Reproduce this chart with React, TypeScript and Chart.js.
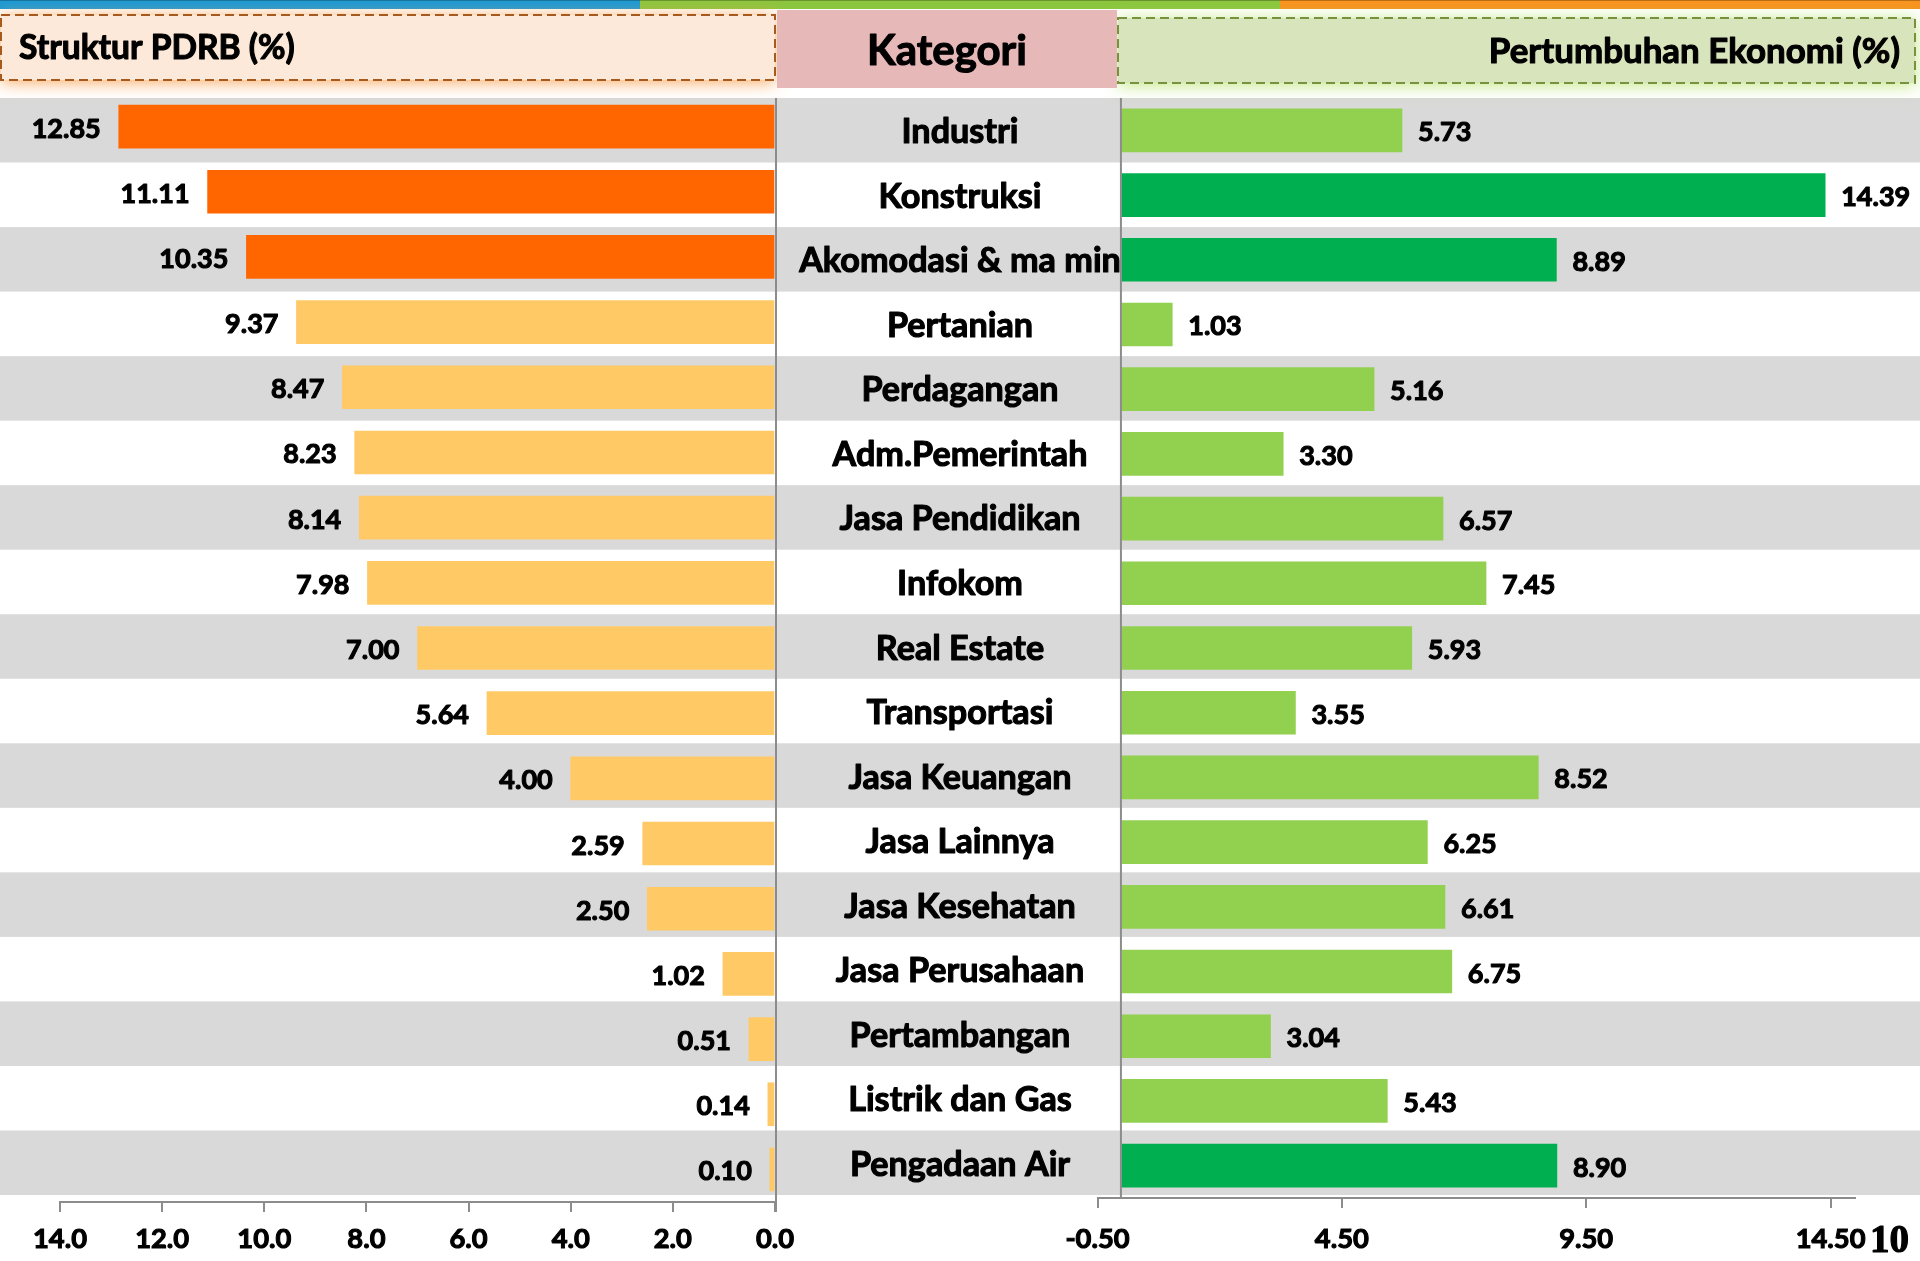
import React, { useEffect, useRef } from "react";
import { Chart, registerables } from "chart.js";

Chart.register(...registerables);

// ---------- data ----------
const categories = [
  "Industri",
  "Konstruksi",
  "Akomodasi & ma min",
  "Pertanian",
  "Perdagangan",
  "Adm.Pemerintah",
  "Jasa Pendidikan",
  "Infokom",
  "Real Estate",
  "Transportasi",
  "Jasa Keuangan",
  "Jasa Lainnya",
  "Jasa Kesehatan",
  "Jasa Perusahaan",
  "Pertambangan",
  "Listrik dan Gas",
  "Pengadaan Air",
];

const strukturPdrb = [12.85, 11.11, 10.35, 9.37, 8.47, 8.23, 8.14, 7.98, 7.0, 5.64, 4.0, 2.59, 2.5, 1.02, 0.51, 0.14, 0.1];
const pertumbuhan = [5.73, 14.39, 8.89, 1.03, 5.16, 3.3, 6.57, 7.45, 5.93, 3.55, 8.52, 6.25, 6.61, 6.75, 3.04, 5.43, 8.9];

const strukturHighlight = [true, true, true, false, false, false, false, false, false, false, false, false, false, false, false, false, false];
const pertumbuhanHighlight = [false, true, true, false, false, false, false, false, false, false, false, false, false, false, false, false, true];

const leftTickStep = 2;
const leftMin = 0;
const leftMax = 14;
const rightMin = -0.5;
const rightMax = 15;
const rightTickValues = [-0.5, 4.5, 9.5, 14.5];

const headerLeft = "Struktur PDRB (%)";
const headerMid = "Kategori";
const headerRight = "Pertumbuhan Ekonomi (%)";
const pageNumber = "10";

// ---------- style ----------
const W = 1920;
const H = 1261;
const FONT = "Lato, 'Open Sans', sans-serif";
const WEIGHT = "bold";
const BAND_TOP = 98;
const BAND_BOTTOM = 1195;
const AXIS_GRAY = "#8C8C8C";
const STROKE = 1.1;

function fitSize(text: string, target: number, family: string, weight = WEIGHT) {
  const c = document.createElement("canvas").getContext("2d")!;
  c.font = `${weight} 100px ${family}`;
  const w = c.measureText(text).width;
  return Math.round(((100 * target) / w) * 10) / 10;
}

function boldText(ctx: CanvasRenderingContext2D, text: string, x: number, y: number) {
  ctx.fillText(text, x, y);
  ctx.strokeText(text, x, y);
}

export default function App() {
  const leftRef = useRef<HTMLCanvasElement>(null);
  const rightRef = useRef<HTMLCanvasElement>(null);

  useEffect(() => {
    const catSize = fitSize("Pengadaan Air", 220, FONT);
    const valSize = fitSize("12.85", 69, FONT);
    const tickSize = fitSize("9.50", 54, FONT);
    const hLeftSize = fitSize(headerLeft, 276, FONT);
    const hMidSize = fitSize(headerMid, 160, FONT);
    const hRightSize = fitSize(headerRight, 411, FONT);

    const n = categories.length;
    const bandH = (BAND_BOTTOM - BAND_TOP) / n;

    const textStyle = (ctx: CanvasRenderingContext2D) => {
      ctx.fillStyle = "#000";
      ctx.strokeStyle = "#000";
      ctx.lineWidth = STROKE;
      ctx.lineJoin = "round";
      ctx.textBaseline = "alphabetic";
    };

    const leftDecor = {
      id: "leftDecor",
      beforeDraw(chart: any) {
        const ctx = chart.ctx as CanvasRenderingContext2D;
        ctx.save();
        ctx.fillStyle = "#FFFFFF";
        ctx.fillRect(0, 0, W, H);
        // top stripe
        ctx.fillStyle = "#1B9AD6";
        ctx.fillRect(0, 0, 640, 9);
        ctx.fillStyle = "#8CC63E";
        ctx.fillRect(640, 0, 640, 9);
        ctx.fillStyle = "#F7931E";
        ctx.fillRect(1280, 0, 640, 9);
        ctx.fillStyle = "rgba(0,0,0,0.25)";
        ctx.fillRect(0, 0, W, 1);

        // row bands
        for (let i = 0; i < n; i++) {
          if (i % 2 === 0) {
            ctx.fillStyle = "#D9D9D9";
            ctx.fillRect(0, BAND_TOP + i * bandH, W, bandH);
          }
        }

        // left header
        ctx.save();
        ctx.shadowColor = "rgba(250,160,80,0.95)";
        ctx.shadowBlur = 16;
        ctx.shadowOffsetY = 2;
        ctx.fillStyle = "#FDE9D9";
        ctx.fillRect(1, 15, 774, 65);
        ctx.restore();
        ctx.save();
        ctx.strokeStyle = "#A65A1E";
        ctx.lineWidth = 2;
        ctx.setLineDash([9, 5]);
        ctx.strokeRect(1, 15, 774, 65);
        ctx.restore();

        // right header
        ctx.save();
        ctx.shadowColor = "rgba(190,230,120,0.95)";
        ctx.shadowBlur = 16;
        ctx.shadowOffsetY = 2;
        ctx.fillStyle = "#D8E4BC";
        ctx.fillRect(1118, 18, 797, 65);
        ctx.restore();
        ctx.save();
        ctx.strokeStyle = "#76923C";
        ctx.lineWidth = 2;
        ctx.setLineDash([9, 5]);
        ctx.strokeRect(1118, 18, 797, 65);
        ctx.restore();

        // middle header
        ctx.fillStyle = "#E6B8B7";
        ctx.fillRect(777, 10, 340, 78);

        textStyle(ctx);
        ctx.font = `${WEIGHT} ${hLeftSize}px ${FONT}`;
        ctx.textAlign = "left";
        boldText(ctx, headerLeft, 19, 59);
        ctx.font = `${WEIGHT} ${hMidSize}px ${FONT}`;
        ctx.textAlign = "center";
        boldText(ctx, headerMid, 947, 65);
        ctx.font = `${WEIGHT} ${hRightSize}px ${FONT}`;
        ctx.textAlign = "right";
        boldText(ctx, headerRight, 1900, 63);
        ctx.restore();
      },
      afterDatasetsDraw(chart: any) {
        const ctx = chart.ctx as CanvasRenderingContext2D;
        const meta = chart.getDatasetMeta(0);
        ctx.save();
        textStyle(ctx);
        ctx.font = `${WEIGHT} ${valSize}px ${FONT}`;
        ctx.textAlign = "right";
        meta.data.forEach((el: any, i: number) => {
          boldText(ctx, strukturPdrb[i].toFixed(2), el.x - 18, el.y + 11);
        });
        ctx.restore();
      },
      afterDraw(chart: any) {
        const ctx = chart.ctx as CanvasRenderingContext2D;
        const xs = chart.scales.x;
        const x0 = xs.getPixelForValue(0);
        ctx.save();
        ctx.strokeStyle = AXIS_GRAY;
        ctx.lineWidth = 2;
        ctx.beginPath();
        ctx.moveTo(x0 + 1, BAND_TOP);
        ctx.lineTo(x0 + 1, chart.chartArea.bottom + 10);
        ctx.stroke();

        // category labels
        ctx.beginPath();
        ctx.rect(x0 + 2, BAND_TOP, 1121 - (x0 + 2), BAND_BOTTOM - BAND_TOP);
        ctx.clip();
        textStyle(ctx);
        ctx.font = `${WEIGHT} ${catSize}px ${FONT}`;
        ctx.textAlign = "center";
        categories.forEach((c, i) => {
          const cy = BAND_TOP + (i + 0.5) * bandH;
          boldText(ctx, c, 960, cy + 13);
        });
        ctx.restore();

        ctx.save();
        textStyle(ctx);
        ctx.font = `bold 39px 'Liberation Serif', serif`;
        ctx.textAlign = "left";
        boldText(ctx, pageNumber, 1870, 1252);
        ctx.restore();
      },
    };

    const rightDecor = {
      id: "rightDecor",
      afterDatasetsDraw(chart: any) {
        const ctx = chart.ctx as CanvasRenderingContext2D;
        const meta = chart.getDatasetMeta(0);
        ctx.save();
        textStyle(ctx);
        ctx.font = `${WEIGHT} ${valSize}px ${FONT}`;
        ctx.textAlign = "left";
        meta.data.forEach((el: any, i: number) => {
          boldText(ctx, pertumbuhan[i].toFixed(2), el.x + 16, el.y + 11);
        });
        ctx.restore();
      },
      afterDraw(chart: any) {
        const ctx = chart.ctx as CanvasRenderingContext2D;
        const xs = chart.scales.x;
        const x0 = xs.getPixelForValue(0);
        ctx.save();
        ctx.strokeStyle = AXIS_GRAY;
        ctx.lineWidth = 2;
        ctx.beginPath();
        ctx.moveTo(x0 - 1, BAND_TOP);
        ctx.lineTo(x0 - 1, chart.chartArea.bottom);
        ctx.stroke();
        ctx.restore();
      },
    };

    const tickFont = { family: FONT, size: tickSize, weight: "bold" as const };

    const left = new Chart(leftRef.current!, {
      type: "bar",
      data: {
        labels: categories,
        datasets: [
          {
            data: strukturPdrb,
            backgroundColor: strukturHighlight.map((h) => (h ? "#FF6600" : "#FFC966")),
            barThickness: 43,
            borderWidth: 0,
          },
        ],
      },
      options: {
        indexAxis: "y",
        responsive: false,
        animation: false,
        layout: { padding: { left: 60, right: W - 775, top: 94, bottom: 0 } },
        plugins: { legend: { display: false }, tooltip: { enabled: false } },
        scales: {
          x: {
            reverse: true,
            min: leftMin,
            max: leftMax,
            afterFit: (s: any) => {
              s.height = H - 1202;
            },
            ticks: {
              stepSize: leftTickStep,
              callback: (v: any) => Number(v).toFixed(1),
              font: tickFont,
              color: "#000",
              textStrokeColor: "#000",
              textStrokeWidth: STROKE,
              padding: 11,
              maxRotation: 0,
              autoSkip: false,
            },
            grid: { drawOnChartArea: false, drawTicks: true, tickLength: 10, color: AXIS_GRAY, lineWidth: 2 },
            border: { display: true, color: AXIS_GRAY, width: 2 },
          },
          y: { display: false },
        },
      },
      plugins: [leftDecor],
    } as any);

    const right = new Chart(rightRef.current!, {
      type: "bar",
      data: {
        labels: categories,
        datasets: [
          {
            data: pertumbuhan,
            backgroundColor: pertumbuhanHighlight.map((h) => (h ? "#00B050" : "#92D050")),
            barThickness: 43,
            borderWidth: 0,
          },
        ],
      },
      options: {
        indexAxis: "y",
        responsive: false,
        animation: false,
        layout: { padding: { left: 1097.5, right: W - 1855, top: 98, bottom: 0 } },
        plugins: { legend: { display: false }, tooltip: { enabled: false } },
        scales: {
          x: {
            min: rightMin,
            max: rightMax,
            afterBuildTicks: (s: any) => {
              s.ticks = rightTickValues.map((v) => ({ value: v }));
            },
            afterFit: (s: any) => {
              s.height = H - 1198;
            },
            ticks: {
              callback: (v: any) => Number(v).toFixed(2),
              font: tickFont,
              color: "#000",
              textStrokeColor: "#000",
              textStrokeWidth: STROKE,
              padding: 15,
              maxRotation: 0,
              autoSkip: false,
            },
            grid: { drawOnChartArea: false, drawTicks: true, tickLength: 10, color: AXIS_GRAY, lineWidth: 2 },
            border: { display: true, color: AXIS_GRAY, width: 2 },
          },
          y: { display: false },
        },
      },
      plugins: [rightDecor],
    } as any);

    return () => {
      left.destroy();
      right.destroy();
    };
  }, []);

  return (
    <div style={{ position: "absolute", left: 0, top: 0, width: W, height: H, background: "#fff" }}>
      <canvas
        ref={leftRef}
        width={W}
        height={H}
        style={{ position: "absolute", left: 0, top: 0, width: W, height: H }}
      />
      <canvas
        ref={rightRef}
        width={W}
        height={H}
        style={{ position: "absolute", left: 0, top: 0, width: W, height: H }}
      />
    </div>
  );
}
